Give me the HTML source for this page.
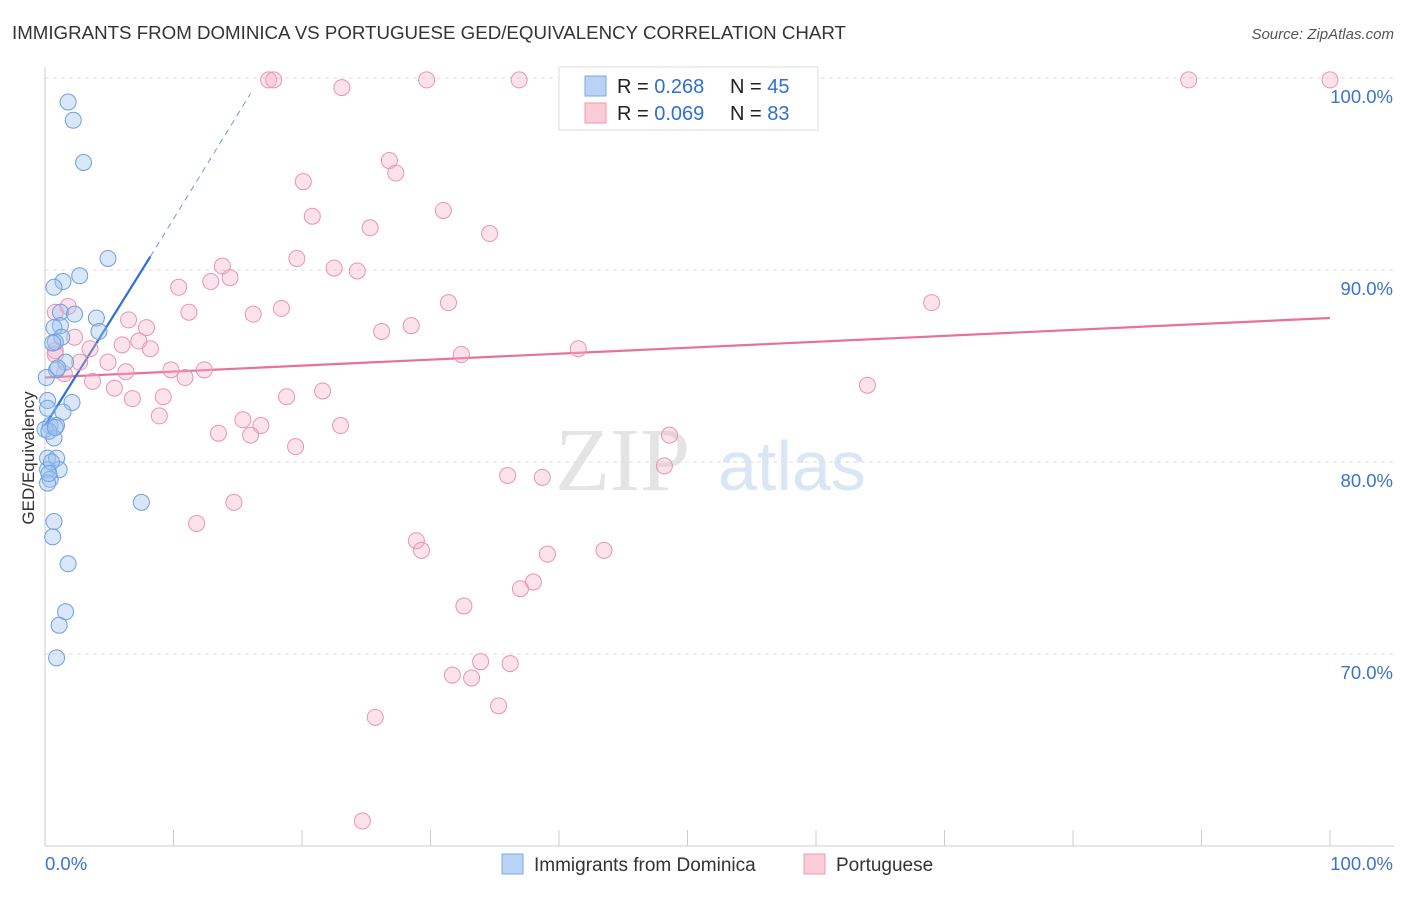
<!DOCTYPE html>
<html><head><meta charset="utf-8"><style>
body{margin:0;background:#fff;font-family:"Liberation Sans",sans-serif;}
</style></head><body>
<svg id="c" width="1406" height="892" xmlns="http://www.w3.org/2000/svg">
<text x="12" y="39" font-size="18" fill="#333" textLength="834" lengthAdjust="spacingAndGlyphs">IMMIGRANTS FROM DOMINICA VS PORTUGUESE GED/EQUIVALENCY CORRELATION CHART</text>
<text x="1394" y="39" font-size="15" fill="#555" text-anchor="end" font-style="italic">Source: ZipAtlas.com</text>
<text x="0" y="0" transform="translate(34,458) rotate(-90)" font-size="17" fill="#333" text-anchor="middle">GED/Equivalency</text>
<g><text x="555" y="490" font-size="90" fill="#e4e4e4" font-family="Liberation Serif,serif">ZIP</text><text x="718" y="490" font-size="70" fill="#dbe6f5">atlas</text></g>
<g id="grid"></g><g id="axes"></g><g id="lines"></g><g id="pts"></g>
<g>
<rect x="559" y="67" width="259" height="63" fill="#fff" stroke="#ddd"/>
<rect x="585" y="76" width="21" height="20" fill="#b8d3f5" stroke="#7aa8e6"/>
<rect x="585" y="103" width="21" height="20" fill="#fbcbd8" stroke="#ee9ab5"/>
<text x="617" y="93" font-size="20" fill="#222">R = <tspan fill="#2f6fd0">0.268</tspan></text>
<text x="730" y="93" font-size="20" fill="#222">N = <tspan fill="#2f6fd0">45</tspan></text>
<text x="617" y="120" font-size="20" fill="#222">R = <tspan fill="#2f6fd0">0.069</tspan></text>
<text x="730" y="120" font-size="20" fill="#222">N = <tspan fill="#2f6fd0">83</tspan></text>
</g>
<g>
<rect x="502" y="854" width="21" height="20" fill="#b8d3f5" stroke="#7aa8e6"/>
<text x="534" y="871" font-size="19" fill="#333">Immigrants from Dominica</text>
<rect x="804" y="854" width="21" height="20" fill="#fbcbd8" stroke="#ee9ab5"/>
<text x="836" y="871" font-size="19" fill="#333">Portuguese</text>
</g>
</svg>
<script>
const yTicks=[100,90,80,70];
const yTickLabels=["100.0%","90.0%","80.0%","70.0%"];
const xTickLabels=["0.0%","100.0%"];
const blueX=[1.8,2.2,3.0,4.9,2.7,1.4,0.7,1.2,2.3,4.0,1.2,0.7,4.2,1.3,0.8,1.6,0.9,0.1,2.1,0.2,1.4,0.2,0.4,0.9,0.7,0,0.2,0.9,1.1,0.2,0.4,0.2,7.5,0.7,0.6,1.8,1.6,1.1,0.9,0.3,0.5,0.6,1.0,0.3,0.8];
const blueY=[98.75,97.8,95.6,90.6,89.7,89.4,89.1,87.8,87.7,87.5,87.1,87.0,86.8,86.5,86.25,85.2,84.8,84.4,83.1,83.2,82.6,82.8,81.9,81.9,81.25,81.7,80.2,80.2,79.6,79.6,79.1,78.9,77.9,76.9,76.1,74.7,72.2,71.5,69.8,81.6,80.0,86.2,84.9,79.4,81.8];
const pinkX=[17.4,17.8,23.1,29.7,36.9,45.5,89.0,100,26.8,27.3,20.1,31.0,20.8,25.3,34.6,13.8,19.6,22.5,24.3,12.9,14.4,10.4,31.4,69.0,18.4,16.2,11.2,0.8,1.8,6.5,7.9,28.5,26.2,2.3,6.0,3.5,7.3,8.2,32.4,41.5,2.7,0.8,4.9,9.8,12.4,6.3,10.9,3.7,5.4,6.8,9.2,18.8,21.6,64.0,8.9,15.4,16.8,23.0,13.5,16.0,48.6,19.5,48.2,36.0,38.7,14.7,11.8,28.9,29.3,39.1,43.5,38.0,37.0,32.6,33.9,36.2,31.7,33.2,35.3,25.7,24.7,0.8,1.5];
const pinkY=[99.9,99.9,99.5,99.9,99.9,99.9,99.9,99.9,95.7,95.05,94.6,93.1,92.8,92.2,91.9,90.2,90.6,90.1,89.95,89.4,89.6,89.1,88.3,88.3,88.0,87.7,87.8,87.8,88.1,87.4,87.0,87.1,86.8,86.5,86.1,85.9,86.3,85.9,85.6,85.9,85.2,85.8,85.2,84.8,84.8,84.7,84.4,84.2,83.85,83.3,83.4,83.4,83.7,84.0,82.4,82.2,81.9,81.9,81.5,81.4,81.4,80.8,79.8,79.3,79.2,77.9,76.8,75.9,75.4,75.2,75.4,73.75,73.4,72.5,69.6,69.5,68.9,68.75,67.3,66.7,61.3,85.6,84.6];
const blueTrend=[0,81.9,8.2,90.7,16,99.2];
const pinkTrend=[0,84.4,100,87.5];
const X=v=>45+v*12.85, Y=v=>78+(100-v)*19.2;
const NS="http://www.w3.org/2000/svg";
function mk(p,t,a){const e=document.createElementNS(NS,t);for(const k in a)e.setAttribute(k,a[k]);p.appendChild(e);return e;}
const grid=document.getElementById('grid'),axes=document.getElementById('axes'),lines=document.getElementById('lines'),pts=document.getElementById('pts');
yTicks.forEach((t,i)=>{
 const l=mk(grid,'line',{x1:45,x2:1394,y1:Y(t),y2:Y(t),stroke:'#ddd','stroke-dasharray':'4,4'});
 
 
 const tx=mk(grid,'text',{x:1393,y:Y(t)+25,'font-size':18.5,fill:'#3b73cf','text-anchor':'end'});
 tx.textContent=yTickLabels[i];
 
 
});
const ax=mk(axes,'line',{x1:45,x2:1394,y1:846,y2:846,stroke:'#ccc'});


const ay=mk(axes,'line',{x1:45,x2:45,y1:67,y2:846,stroke:'#ccc'});


for(let i=0;i<=10;i++){const t=mk(axes,'line',{x1:X(i*10),x2:X(i*10),y1:830,y2:846,stroke:'#ccc'});
 
 }
[[0,'start',45],[1,'end',1393]].forEach(([i,a,x])=>{const t=mk(axes,'text',{x:x,y:870,'font-size':18.5,fill:'#3b73cf','text-anchor':a});t.textContent=xTickLabels[i];
 
 });
const pl=mk(lines,'line',{x1:X(pinkTrend[0]),y1:Y(pinkTrend[1]),x2:X(pinkTrend[2]),y2:Y(pinkTrend[3]),stroke:'#e8709a','stroke-width':2.2});


const bl=mk(lines,'line',{x1:X(blueTrend[0]),y1:Y(blueTrend[1]),x2:X(blueTrend[2]),y2:Y(blueTrend[3]),stroke:'#2d6fd6','stroke-width':2.2});


const bd=mk(lines,'line',{x1:X(blueTrend[2]),y1:Y(blueTrend[3]),x2:X(blueTrend[4]),y2:Y(blueTrend[5]),stroke:'#6b9be0','stroke-width':1,'stroke-dasharray':'6,5'});


pinkX.forEach((x,i)=>{const c=mk(pts,'circle',{cx:X(x),cy:Y(pinkY[i]),r:8,fill:'rgba(246,176,198,0.35)',stroke:'#eb93b0','stroke-width':1});
 
 });
blueX.forEach((x,i)=>{const c=mk(pts,'circle',{cx:X(x),cy:Y(blueY[i]),r:8,fill:'rgba(160,196,240,0.4)',stroke:'#6e9fe0','stroke-width':1});
 
 });
</script>
</body></html>
